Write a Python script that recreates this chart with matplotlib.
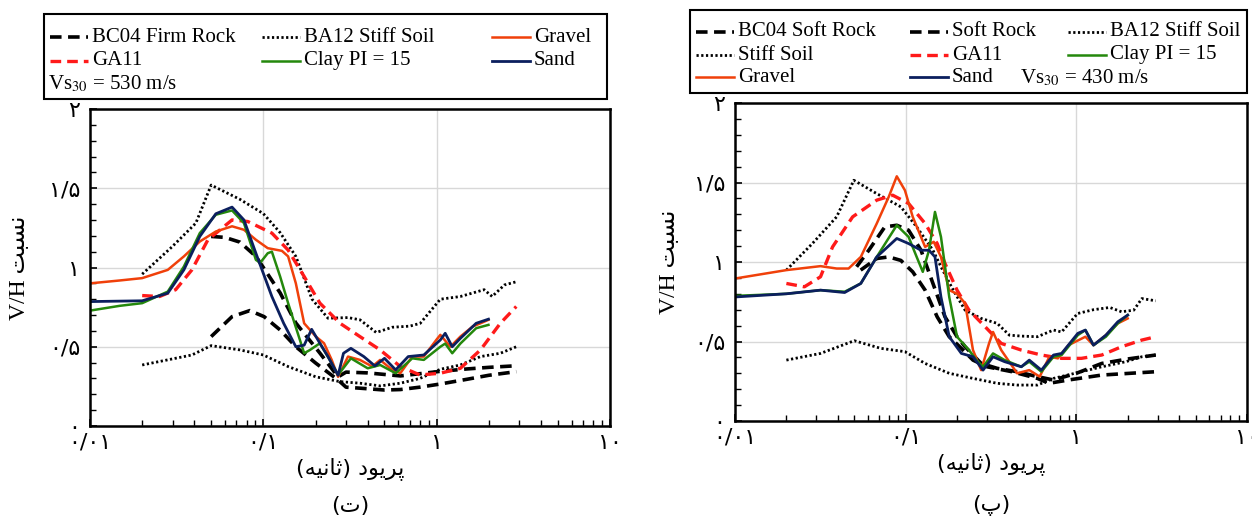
import matplotlib
matplotlib.use("Agg")
import matplotlib.pyplot as plt
from matplotlib.lines import Line2D
from matplotlib.patches import Rectangle
from matplotlib.ticker import MultipleLocator, LogLocator, NullFormatter

plt.rcParams['font.family'] = ['Liberation Serif', 'DejaVu Sans']
plt.rcParams['mathtext.fontset'] = 'stix'

# ---------------- data: panel (ت), Vs30 = 530 m/s ----------------
L_ba12_hi_t = [0.02, 0.0297, 0.0408, 0.05, 0.0733, 0.1, 0.125, 0.154, 0.191, 0.236, 0.308, 0.361, 0.448, 0.554, 0.70, 0.804, 1.05, 1.37, 1.88, 2.09, 2.46, 2.88]
L_ba12_hi_v = [0.958, 1.13, 1.28, 1.52, 1.43, 1.34, 1.22, 1.07, 0.80, 0.68, 0.684, 0.67, 0.59, 0.623, 0.63, 0.648, 0.80, 0.817, 0.86, 0.817, 0.89, 0.91]
L_ba12_lo_t = [0.02, 0.0387, 0.05, 0.0733, 0.1, 0.139, 0.201, 0.277, 0.361, 0.472, 0.617, 0.80, 1.05, 1.37, 1.79, 2.33, 2.88]
L_ba12_lo_v = [0.385, 0.448, 0.507, 0.48, 0.448, 0.375, 0.31, 0.28, 0.27, 0.253, 0.27, 0.30, 0.358, 0.385, 0.438, 0.459, 0.50]
L_bc04_a_t = [0.05, 0.06, 0.0733, 0.0906, 0.1, 0.125, 0.154, 0.212, 0.27, 0.30, 0.40, 0.617, 0.80, 1.05, 1.5, 2.0, 2.88]
L_bc04_a_v = [1.196, 1.19, 1.16, 1.07, 1.0, 0.84, 0.65, 0.46, 0.31, 0.34, 0.335, 0.316, 0.33, 0.345, 0.36, 0.37, 0.38]
L_bc04_b_t = [0.05, 0.066, 0.0835, 0.101, 0.125, 0.154, 0.201, 0.27, 0.30, 0.40, 0.50, 0.617, 0.80, 1.05, 1.5, 2.0, 2.88]
L_bc04_b_v = [0.564, 0.69, 0.728, 0.69, 0.606, 0.50, 0.396, 0.29, 0.245, 0.235, 0.227, 0.23, 0.245, 0.265, 0.295, 0.32, 0.343]
L_ga11_t = [0.02, 0.0252, 0.0312, 0.0387, 0.0479, 0.066, 0.0814, 0.112, 0.139, 0.172, 0.212, 0.277, 0.361, 0.472, 0.617, 0.80, 1.05, 1.37, 1.79, 2.33, 2.88]
L_ga11_v = [0.823, 0.817, 0.86, 0.985, 1.175, 1.30, 1.29, 1.217, 1.11, 0.943, 0.775, 0.648, 0.564, 0.48, 0.375, 0.322, 0.333, 0.364, 0.48, 0.648, 0.754]
L_gravel_t = [0.01, 0.0148, 0.02, 0.0281, 0.0348, 0.043, 0.0532, 0.066, 0.0773, 0.0906, 0.106, 0.128, 0.139, 0.154, 0.172, 0.201, 0.224, 0.248, 0.27, 0.308, 0.361, 0.425, 0.472, 0.54, 0.617, 0.723, 0.843, 0.995, 1.05, 1.20, 1.37, 1.61, 1.79, 1.99]
L_gravel_v = [0.90, 0.918, 0.933, 0.985, 1.07, 1.164, 1.227, 1.26, 1.238, 1.175, 1.122, 1.105, 1.07, 0.90, 0.648, 0.564, 0.522, 0.417, 0.31, 0.438, 0.417, 0.375, 0.417, 0.364, 0.333, 0.438, 0.438, 0.543, 0.575, 0.50, 0.564, 0.627, 0.648, 0.67]
L_clay_t = [0.01, 0.0148, 0.02, 0.0281, 0.0348, 0.043, 0.0532, 0.066, 0.0773, 0.0906, 0.096, 0.106, 0.112, 0.125, 0.139, 0.172, 0.186, 0.212, 0.248, 0.27, 0.32, 0.40, 0.472, 0.58, 0.723, 0.843, 1.05, 1.12, 1.23, 1.37, 1.69, 1.99]
L_clay_v = [0.728, 0.758, 0.775, 0.848, 1.006, 1.217, 1.333, 1.36, 1.28, 1.048, 1.03, 1.09, 1.10, 0.943, 0.775, 0.459, 0.48, 0.522, 0.396, 0.322, 0.427, 0.364, 0.385, 0.333, 0.427, 0.417, 0.50, 0.52, 0.459, 0.52, 0.617, 0.638]
L_sand_t = [0.01, 0.02, 0.0281, 0.0348, 0.043, 0.0532, 0.066, 0.0773, 0.0906, 0.112, 0.131, 0.154, 0.172, 0.19, 0.212, 0.236, 0.27, 0.29, 0.32, 0.38, 0.44, 0.50, 0.58, 0.685, 0.843, 1.05, 1.12, 1.23, 1.37, 1.69, 1.99]
L_sand_v = [0.785, 0.79, 0.838, 0.985, 1.196, 1.339, 1.381, 1.30, 1.09, 0.817, 0.648, 0.50, 0.51, 0.61, 0.522, 0.438, 0.32, 0.459, 0.49, 0.438, 0.379, 0.427, 0.354, 0.438, 0.448, 0.543, 0.585, 0.50, 0.553, 0.648, 0.674]

# ---------------- data: panel (پ), Vs30 = 430 m/s ----------------
R_ba12_hi_t = [0.02, 0.0284, 0.0394, 0.0497, 0.0677, 0.0937, 0.116, 0.1445, 0.161, 0.19, 0.223, 0.277, 0.344, 0.405, 0.476, 0.591, 0.735, 0.82, 1.017, 1.26, 1.57, 1.84, 2.17, 2.42, 2.92]
R_ba12_hi_v = [0.949, 1.116, 1.284, 1.514, 1.43, 1.347, 1.221, 1.074, 0.97, 0.823, 0.697, 0.645, 0.614, 0.54, 0.534, 0.53, 0.572, 0.56, 0.676, 0.70, 0.714, 0.687, 0.697, 0.77, 0.756]
R_ba12_lo_t = [0.02, 0.0317, 0.05, 0.0714, 0.099, 0.130, 0.18, 0.248, 0.344, 0.45, 0.591, 0.735, 1.017, 1.41, 1.95, 2.42, 2.92]
R_ba12_lo_v = [0.383, 0.425, 0.505, 0.457, 0.436, 0.362, 0.30, 0.268, 0.237, 0.226, 0.226, 0.268, 0.304, 0.341, 0.373, 0.404, 0.415]
R_bc04_t = [0.0516, 0.0608, 0.0755, 0.0887, 0.104, 0.123, 0.1445, 0.17, 0.2, 0.223, 0.277, 0.344, 0.45, 0.591, 0.735, 1.0, 1.41, 2.0, 2.92]
R_bc04_v = [0.97, 1.074, 1.221, 1.231, 1.20, 1.074, 0.865, 0.655, 0.53, 0.467, 0.362, 0.331, 0.31, 0.279, 0.258, 0.30, 0.362, 0.39, 0.415]
R_soft_t = [0.0545, 0.0677, 0.0796, 0.0937, 0.110, 0.130, 0.153, 0.18, 0.212, 0.248, 0.30, 0.42, 0.591, 0.69, 0.9, 1.41, 2.92]
R_soft_v = [0.949, 1.022, 1.032, 1.01, 0.938, 0.823, 0.655, 0.53, 0.457, 0.383, 0.341, 0.31, 0.268, 0.237, 0.258, 0.289, 0.31]
R_ga11_t = [0.02, 0.0255, 0.0317, 0.0373, 0.0489, 0.0677, 0.084, 0.104, 0.130, 0.153, 0.17, 0.2, 0.235, 0.292, 0.363, 0.476, 0.624, 0.818, 1.07, 1.41, 1.84, 2.42, 2.92]
R_ga11_v = [0.865, 0.844, 0.907, 1.095, 1.284, 1.389, 1.42, 1.368, 1.242, 1.116, 0.991, 0.823, 0.697, 0.593, 0.488, 0.446, 0.415, 0.394, 0.394, 0.415, 0.467, 0.509, 0.53]
R_gravel_t = [0.01, 0.02, 0.0317, 0.0394, 0.0463, 0.0546, 0.0677, 0.0796, 0.0887, 0.099, 0.110, 0.130, 0.146, 0.161, 0.18, 0.2, 0.223, 0.248, 0.277, 0.308, 0.325, 0.363, 0.45, 0.53, 0.61, 0.695, 0.78, 0.9, 1.13, 1.26, 1.49, 1.75, 2.0]
R_gravel_v = [0.896, 0.949, 0.974, 0.959, 0.959, 1.032, 1.242, 1.41, 1.539, 1.451, 1.284, 1.095, 1.127, 1.032, 0.823, 0.80, 0.74, 0.446, 0.32, 0.488, 0.56, 0.446, 0.30, 0.32, 0.279, 0.404, 0.394, 0.477, 0.53, 0.477, 0.54, 0.614, 0.645]
R_clay_t = [0.01, 0.02, 0.0317, 0.0439, 0.0546, 0.0677, 0.0887, 0.104, 0.116, 0.126, 0.137, 0.1485, 0.161, 0.18, 0.2, 0.235, 0.26, 0.284, 0.325, 0.38, 0.476, 0.53, 0.624, 0.735, 0.82, 1.02, 1.13, 1.26, 1.49, 1.75, 2.0]
R_clay_v = [0.787, 0.80, 0.823, 0.813, 0.865, 1.032, 1.231, 1.158, 1.032, 0.938, 1.074, 1.315, 1.158, 0.78, 0.53, 0.446, 0.383, 0.341, 0.425, 0.383, 0.341, 0.373, 0.31, 0.404, 0.415, 0.54, 0.572, 0.477, 0.53, 0.614, 0.666]
R_sand_t = [0.01, 0.02, 0.0317, 0.0439, 0.0546, 0.0677, 0.0887, 0.104, 0.123, 0.137, 0.1485, 0.161, 0.18, 0.212, 0.248, 0.284, 0.325, 0.38, 0.476, 0.53, 0.624, 0.735, 0.82, 1.02, 1.13, 1.26, 1.49, 1.75, 2.0]
R_sand_v = [0.78, 0.80, 0.823, 0.808, 0.865, 1.032, 1.148, 1.116, 1.074, 1.074, 1.032, 0.78, 0.53, 0.425, 0.404, 0.32, 0.404, 0.373, 0.341, 0.383, 0.32, 0.415, 0.425, 0.551, 0.572, 0.477, 0.54, 0.624, 0.666]

x_ticks = [0.01, 0.1, 1, 10]
x_ticklabels = ['۰/۰۱', '۰/۱', '۱', '۱۰']
y_ticks = [0, 0.5, 1, 1.5, 2]
y_ticklabels = ['۰', '۰/۵', '۱', '۱/۵', '۲']
xlabel = 'پریود (ثانیه)'
ylabel = 'نسبت V/H'

# colours
c_gravel = '#f0400a'
c_clay = '#24880c'
c_sand = '#0b1f5e'
c_ga11 = '#ff1a1a'


# matplotlib has no bidi / shaping, so build the visual form by hand
FORMS = {
    'پ': ('\ufb56', '\ufb57', '\ufb58', '\ufb59'),
    'ر': ('\ufead', '\ufeae', None, None),
    'ی': ('\ufbfc', '\ufbfd', '\ufbfe', '\ufbff'),
    'و': ('\ufeed', '\ufeee', None, None),
    'د': ('\ufea9', '\ufeaa', None, None),
    'ث': ('\ufe99', '\ufe9a', '\ufe9b', '\ufe9c'),
    'ا': ('\ufe8d', '\ufe8e', None, None),
    'ن': ('\ufee5', '\ufee6', '\ufee7', '\ufee8'),
    'ه': ('\ufee9', '\ufeea', '\ufeeb', '\ufeec'),
    'س': ('\ufeb1', '\ufeb2', '\ufeb3', '\ufeb4'),
    'ب': ('\ufe8f', '\ufe90', '\ufe91', '\ufe92'),
    'ت': ('\ufe95', '\ufe96', '\ufe97', '\ufe98'),
}


def shape_word(w):
    out = []
    for i, ch in enumerate(w):
        if ch not in FORMS:
            out.append(ch)
            continue
        f = FORMS[ch]
        prev = w[i - 1] if i > 0 else ''
        nxt = w[i + 1] if i + 1 < len(w) else ''
        jp = prev in FORMS and FORMS[prev][2] is not None
        jn = nxt in FORMS and f[2] is not None
        if jp and jn:
            out.append(f[3])
        elif jp:
            out.append(f[1])
        elif jn:
            out.append(f[2])
        else:
            out.append(f[0])
    s = ''.join(reversed(out))
    return s.translate(str.maketrans('()', ')('))


def rtl(text):
    words = text.split(' ')
    vis = [shape_word(w) if any(c in FORMS for c in w) else w for w in words]
    return ' '.join(reversed(vis))


fa_font = ['DejaVu Sans']
mixed_font = ['Liberation Serif', 'DejaVu Sans']
serif = ['Liberation Serif']

W, H = 1252, 524
fig = plt.figure(figsize=(W / 100, H / 100), dpi=100)

axL = fig.add_axes([90 / W, 1 - 426 / H, 520 / W, 317 / H])
axR = fig.add_axes([735 / W, 1 - 421 / H, 512 / W, 318 / H])

dash_kw = dict(color='black', ls='--', lw=2.6, dashes=(3.2, 1.8))
dot_kw = dict(color='black', lw=2.0, dashes=(0.8, 0.9))
ga_kw = dict(color=c_ga11, lw=2.4, dashes=(3.2, 1.8))
gr_kw = dict(color=c_gravel, lw=1.8)
cl_kw = dict(color=c_clay, lw=1.8)
sa_kw = dict(color=c_sand, lw=2.0)

# left panel
axL.plot(L_ba12_hi_t, L_ba12_hi_v, **dot_kw)
axL.plot(L_ba12_lo_t, L_ba12_lo_v, **dot_kw)
axL.plot(L_bc04_a_t, L_bc04_a_v, **dash_kw)
axL.plot(L_bc04_b_t, L_bc04_b_v, **dash_kw)
axL.plot(L_ga11_t, L_ga11_v, **ga_kw)
axL.plot(L_gravel_t, L_gravel_v, **gr_kw)
axL.plot(L_clay_t, L_clay_v, **cl_kw)
axL.plot(L_sand_t, L_sand_v, **sa_kw)

# right panel
axR.plot(R_ba12_hi_t, R_ba12_hi_v, **dot_kw)
axR.plot(R_ba12_lo_t, R_ba12_lo_v, **dot_kw)
axR.plot(R_bc04_t, R_bc04_v, **dash_kw)
axR.plot(R_soft_t, R_soft_v, **dash_kw)
axR.plot(R_ga11_t, R_ga11_v, **ga_kw)
axR.plot(R_gravel_t, R_gravel_v, **gr_kw)
axR.plot(R_clay_t, R_clay_v, **cl_kw)
axR.plot(R_sand_t, R_sand_v, **sa_kw)

for ax, cap, ylx in [(axL, '(ت)', -0.115), (axR, '(پ)', -0.108)]:
    ax.set_xscale('log')
    ax.set_xlim(0.01, 10)
    ax.set_ylim(0, 2)
    ax.set_xticks(x_ticks)
    ax.set_xticklabels(x_ticklabels, family=fa_font, fontsize=16)
    ax.xaxis.set_minor_locator(LogLocator(base=10, subs=range(2, 10)))
    ax.xaxis.set_minor_formatter(NullFormatter())
    ax.set_yticks(y_ticks)
    ax.set_yticklabels(y_ticklabels, family=fa_font, fontsize=16)
    ax.yaxis.set_minor_locator(MultipleLocator(0.1))
    ax.tick_params(which='both', direction='in', top=False, right=False)
    ax.tick_params(which='major', length=5, width=1.2)
    ax.tick_params(which='minor', length=4, width=1.0)
    ax.tick_params(axis='x', pad=5)
    ax.tick_params(axis='y', pad=7)
    ax.grid(True, which='major', color='#d8d8d8', lw=1.0)
    for s in ax.spines.values():
        s.set_linewidth(1.8)
    ax.set_xlabel(rtl(xlabel), family=fa_font, fontsize=16, labelpad=3)
    ax.set_ylabel(rtl(ylabel), family=mixed_font, fontsize=17)
    ax.yaxis.set_label_coords(ylx, 0.5)
    pos = ax.get_position()
    fig.text(pos.x0 + pos.width / 2, 1 - 506 / H, rtl(cap), family=fa_font,
             fontsize=16, ha='center', va='center')

# legend boxes
fig.patches.append(Rectangle((44 / W, 1 - 99 / H), 563 / W, 85 / H, transform=fig.transFigure,
                             fill=False, ec='black', lw=1.5))
fig.patches.append(Rectangle((690 / W, 1 - 93 / H), 557 / W, 83 / H, transform=fig.transFigure,
                             fill=False, ec='black', lw=1.5))


def key(style, label, x, y):
    # one legend entry: a short line sample and its label, in figure pixels
    fig.add_artist(Line2D([x / W, (x + 38) / W], [1 - y / H, 1 - y / H],
                          transform=fig.transFigure, **style))
    fig.text((x + 42) / W, 1 - y / H, label, family=serif, fontsize=15,
             ha='left', va='center')


# legend of (ت)
key(dash_kw, 'BC04 Firm Rock', 50, 37)
key(ga_kw, 'GA11', 50, 61)
key(dot_kw, 'BA12 Stiff Soil', 262, 37)
key(cl_kw, 'Clay PI = 15', 262, 61)
key(gr_kw, 'Gravel', 492, 37)
key(sa_kw, 'Sand', 492, 61)
fig.text(48 / W, 1 - 84 / H, r'Vs$_{30}$ = 530 m/s', family=serif,
         fontsize=15, ha='left', va='center')

# legend of (پ)
key(dash_kw, 'BC04 Soft Rock', 696, 32)
key(dot_kw, 'Stiff Soil', 696, 55)
key(gr_kw, 'Gravel', 696, 77)
key(dash_kw, 'Soft Rock', 910, 32)
key(ga_kw, 'GA11', 910, 55)
key(sa_kw, 'Sand', 910, 77)
key(dot_kw, 'BA12 Stiff Soil', 1068, 32)
key(cl_kw, 'Clay PI = 15', 1068, 55)
fig.text(1020 / W, 1 - 78 / H, r'Vs$_{30}$ = 430 m/s', family=serif,
         fontsize=15, ha='left', va='center')

fig.savefig('out.png', dpi=100)
